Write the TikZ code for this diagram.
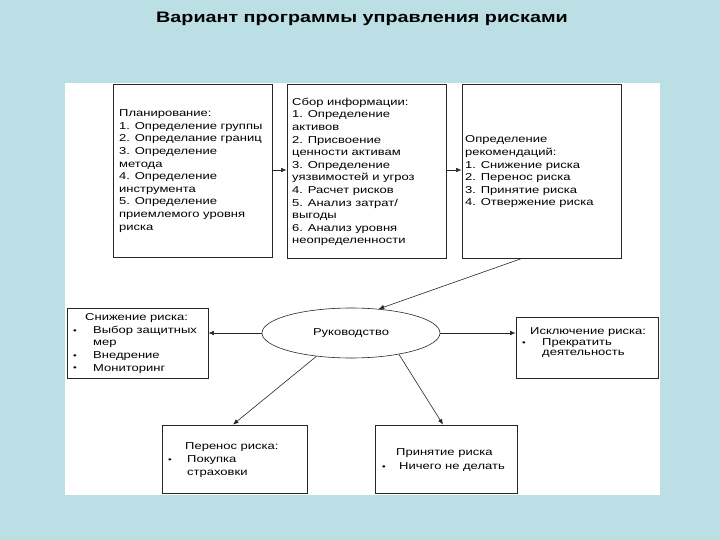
\documentclass[tikz,border=0pt]{standalone}
\usepackage{fontspec}
\setmainfont{Liberation Sans}
\newfontfamily\bxfont[FakeStretch=1.3]{Liberation Sans}
\newfontfamily\ttlfont[FakeStretch=1.3]{Liberation Sans}
\usetikzlibrary{shapes.geometric,arrows.meta}
\definecolor{slidebg}{HTML}{BCDFE5}
\newcommand\mybul[1]{\makebox[#1][l]{\raisebox{0.3pt}{\footnotesize•}}}
\tikzset{
  box/.style={draw=black!85, line width=0.8pt, fill=white, inner sep=0pt},
  txt/.style={anchor=west, inner sep=0pt, align=left, font=\bxfont\fontsize{10}{12.6}\selectfont},
  arr/.style={draw=black!85, line width=0.6pt, -{Latex[length=5.5pt,width=4.5pt]}},
}
\begin{document}
\begin{tikzpicture}[x=1pt,y=-1pt]
\useasboundingbox (0,0) rectangle (720,540);
\fill[slidebg] (0,0) rectangle (720,540);
\fill[white] (65,83) rectangle (660,495);
\node[font=\ttlfont\bfseries\fontsize{15.2}{17}\selectfont, inner sep=0pt] (title) at (362,19) {Вариант программы управления рисками};

% top row
\node[box, minimum width=159pt, minimum height=173pt] (plan) at (192.5,170.5) {};
\node[box, minimum width=159pt, minimum height=174pt] (info) at (366.5,171) {};
\node[box, minimum width=159pt, minimum height=174pt] (rec) at (541.5,171) {};
\node[txt] (plant) at (119,171) {Планирование:\\1. Определение группы\\2. Определание границ\\3. Определение\\метода\\4. Определение\\инструмента\\5. Определение\\приемлемого уровня\\риска};
\node[txt] (infot) at (292,172) {Сбор информации:\\1. Определение\\активов\\2. Присвоение\\ценности активам\\3. Определение\\уязвимостей и угроз\\4. Расчет рисков\\5. Анализ затрат/\\выгоды\\6. Анализ уровня\\неопределенности};
\node[txt] (rect) at (465,172) {Определение\\рекомендаций:\\1. Снижение риска\\2. Перенос риска\\3. Принятие риска\\4. Отвержение риска};

% middle row
\node[draw=black!85, line width=0.6pt, ellipse, minimum width=178pt, minimum height=50pt, inner sep=0pt, font=\bxfont\fontsize{10}{12}\selectfont] (ell) at (351,333) {Руководство};
\node[box, minimum width=141pt, minimum height=70pt] (snz) at (137.5,343) {};
\node[box, minimum width=142pt, minimum height=61pt] (exc) at (587,347.5) {};
\node[txt] (snzt) at (73,343.5) {\hspace*{12pt}Снижение риска:\\\mybul{20pt}Выбор защитных\\\hspace*{20pt}мер\\\mybul{20pt}Внедрение\\\mybul{20pt}Мониторинг};
\node[txt, font=\bxfont\fontsize{10}{10.5}\selectfont] (exct) at (522,343) {\hspace*{8pt}Исключение риска:\\\mybul{20pt}Прекратить\\\hspace*{20pt}деятельность};

% bottom row
\node[box, minimum width=145pt, minimum height=68pt] (trn) at (234.5,459) {};
\node[box, minimum width=142pt, minimum height=68pt] (acc) at (446,459) {};
\node[txt, font=\bxfont\fontsize{10}{13}\selectfont] (trnt) at (168,460) {\hspace*{17pt}Перенос риска:\\\mybul{19pt}Покупка\\\hspace*{19pt}страховки};
\node[txt, font=\bxfont\fontsize{10}{14}\selectfont] (acct) at (382,460) {\hspace*{14pt}Принятие риска\\\mybul{17pt}Ничего не делать};

% connectors
\draw[arr] (plan.east |- 0,170) -- (info.west |- 0,170);
\draw[arr] (info.east |- 0,170) -- (rec.west |- 0,170);
\draw[arr] ([xshift=-19.5pt]rec.south) -- (ell.41);
\draw[arr] (ell.west) -- (ell.west -| snz.east);
\draw[arr] (ell.east) -- (ell.east -| exc.west);
\draw[arr] (ell.214) -- ([xshift=-1.5pt]trn.north);
\draw[arr] (ell.336) -- ([xshift=-3pt]acc.north);
\end{tikzpicture}
\end{document}
